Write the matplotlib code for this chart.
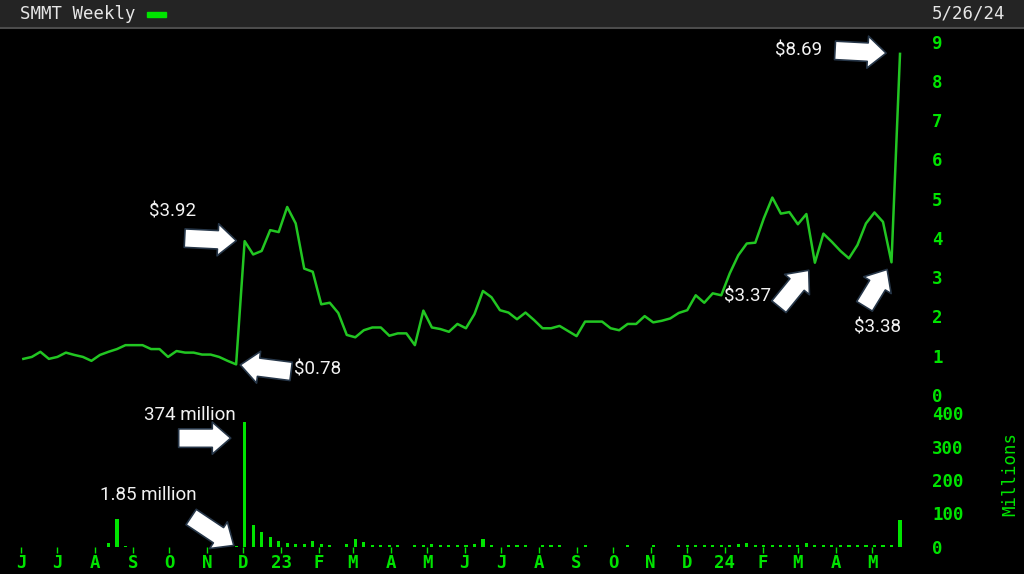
import matplotlib
matplotlib.use("Agg")
import matplotlib.pyplot as plt
import matplotlib.dates as mdates
from matplotlib.patches import Rectangle
from matplotlib.ticker import FuncFormatter, FixedLocator
import pandas as pd

# weekly closes, SMMT, Jun 2022 - May 2024
weeks = pd.date_range("2022-06-03", periods=104, freq="W-FRI")
close = [0.92, 0.97, 1.10, 0.92, 0.97, 1.08, 1.02, 0.97, 0.87, 1.02,
         1.10, 1.17, 1.27, 1.27, 1.27, 1.17, 1.17, 0.97, 1.12, 1.08,
         1.08, 1.03, 1.03, 0.97, 0.87, 0.78,
         3.92, 3.58, 3.67, 4.20, 4.15, 4.79, 4.37, 3.22, 3.14, 2.31,
         2.35, 2.09, 1.53, 1.47, 1.65, 1.72, 1.72, 1.51, 1.57, 1.57,
         1.27, 2.15, 1.72, 1.68, 1.61, 1.81, 1.70,
         2.06, 2.65, 2.49, 2.16, 2.10, 1.93, 2.10, 1.91, 1.70, 1.70,
         1.76, 1.63, 1.50, 1.87, 1.87, 1.87, 1.70, 1.65, 1.81, 1.81,
         2.01, 1.85, 1.89, 1.95, 2.09, 2.16, 2.54, 2.35, 2.59, 2.54,
         3.10, 3.56, 3.86, 3.88, 4.50, 5.03, 4.62, 4.66, 4.35, 4.61,
         3.37, 4.11, 3.90, 3.67, 3.48, 3.82, 4.37, 4.65, 4.41, 3.38, 8.69]
# weekly volume, millions
volume = [1.1, 0.9, 1.3, 1.0, 0.8, 1.2, 0.9, 1.1, 1.0, 1.2,
          12, 85, 4, 1.3, 1.0, 0.9, 1.1, 0.8, 1.0, 1.2,
          0.9, 1.0, 1.1, 0.9, 1.0, 1.85,
          374, 66, 44, 29, 19, 13, 8, 8, 18, 8,
          5, 1.2, 9, 24, 14, 6, 6, 6, 6, 1.2,
          6, 6, 8, 6, 6, 6, 6, 10, 24, 6,
          1.2, 6, 6, 6, 1.2, 6, 6, 6, 1.2, 1.2,
          6, 1.2, 1.2, 1.2, 1.2, 6, 1.2, 1.2, 6, 1.2,
          1.2, 6, 6, 6, 6, 6, 6, 6, 9, 12,
          6, 6, 6, 7, 6, 6, 12, 7, 7, 6,
          6, 6, 6, 7, 7, 6, 7, 82]
price_ticks = list(range(10))
vol_ticks = [0, 100, 200, 300, 400]

GREEN_LINE = "#22c622"
GREEN = "#00e400"
MONO = "DejaVu Sans Mono"

fig = plt.figure(figsize=(10.24, 5.74), dpi=100, facecolor="black")

# header bar
hdr = fig.add_axes([0, 546 / 574, 1, 28 / 574])
hdr.set_facecolor("#242424")
hdr.set_xticks([])
hdr.set_yticks([])
for s in hdr.spines.values():
    s.set_visible(False)
hdr.spines["bottom"].set_visible(True)
hdr.spines["bottom"].set_color("#4c4c4c")
hdr.spines["bottom"].set_linewidth(1.5)
hdr.text(20 / 1024, 0.5, "SMMT Weekly", va="center", ha="left",
         family=MONO, size=12.5, color="#e6e6e6")
hdr.add_patch(Rectangle((147 / 1024, 0.4), 19 / 1024, 0.16,
                        transform=hdr.transAxes, color=GREEN))
hdr.text(1005 / 1024, 0.5, "5/26/24", va="center", ha="right",
         family=MONO, size=12.5, color="#e6e6e6")

x = mdates.date2num(weeks)

ax = fig.add_axes([0, 179 / 574, 918 / 1024, 365 / 574], facecolor="black")
axv = fig.add_axes([0, 27 / 574, 918 / 1024, 147 / 574], facecolor="black",
                   sharex=ax)

ax.plot(x, close, color=GREEN_LINE, lw=1.8)
axv.bar(x, volume, width=2.6, color=GREEN, antialiased=False, linewidth=0)

ax.set_xlim(x[0] - 19.2, x[-1] + 14.8)
ax.set_ylim(0, 9 * 365 / 353.3)
axv.set_ylim(0, 400 * 147 / 134)

for a in (ax, axv):
    for s in a.spines.values():
        s.set_visible(False)
    a.yaxis.tick_right()
    a.tick_params(axis="y", length=0, pad=10, labelcolor=GREEN,
                  labelsize=12.5)

ax.set_yticks(price_ticks)
axv.set_yticks(vol_ticks)
ax.tick_params(axis="x", bottom=False, labelbottom=False)

# month ticks only inside the data range
months = pd.date_range(weeks[0].replace(day=1), weeks[-1], freq="MS")
axv.xaxis.set_major_locator(FixedLocator(mdates.date2num(months)))


def month_label(v, pos):
    d = mdates.num2date(v)
    return d.strftime("%y") if d.month == 1 else d.strftime("%b")[0]


axv.xaxis.set_major_formatter(FuncFormatter(month_label))
axv.tick_params(axis="x", length=4, width=1, color=GREEN, pad=1,
                labelcolor=GREEN, labelsize=12.5)
for lab in ax.get_yticklabels() + axv.get_yticklabels() + axv.get_xticklabels():
    lab.set_family(MONO)
    lab.set_fontweight("bold")

fig.text(1010 / 1024, (574 - 474) / 574, "Millions", rotation=90,
         ha="center", va="center", family=MONO, size=12.5, color=GREEN)

# callouts
ARROW = dict(arrowstyle="simple,head_length=0.95,head_width=1.65,tail_width=0.95",
             mutation_scale=14, fc="white", ec="#263648", lw=1.2, shrinkA=0)
TXT = dict(textcoords="offset pixels", ha="center", va="center",
           color="#f2f2f2", fontsize=13.5, family="Roboto")


def callout(axis, xy, text, text_off, tail_off, shrink, arrow_xy=None):
    axis.annotate(text, xy=xy, xytext=text_off, **TXT)
    axis.annotate("", xy=arrow_xy if arrow_xy else xy, xytext=tail_off,
                  textcoords="offset pixels",
                  arrowprops=dict(ARROW, shrinkB=shrink))


callout(ax, (x[26], close[26]), r"\$3.92", (-72, 30), (-60, 3), 6)
callout(ax, (x[25], close[25]), r"\$0.78", (81, -5), (55, -7), 3)
callout(ax, (x[93], close[93]), r"\$3.37", (-67, -34), (-36, -44), 7)
callout(ax, (x[102], close[102]), r"\$3.38", (-14, -65), (-27, -44), 6)
callout(ax, (x[103], close[103]), r"\$8.69", (-101, 3), (-65, 3.5), 10)

axv.annotate("374 million", xy=(x[26], volume[26]), xytext=(-55, 7), **TXT)
axv.annotate("", xy=(x[26], 325), xytext=(-66, 0), textcoords="offset pixels",
             arrowprops=dict(ARROW, shrinkB=10))
callout(axv, (x[25], 0), "1.85 million", (-88, 52), (-45, 30), 2)

fig.savefig("out.png", dpi=100, facecolor="black")
